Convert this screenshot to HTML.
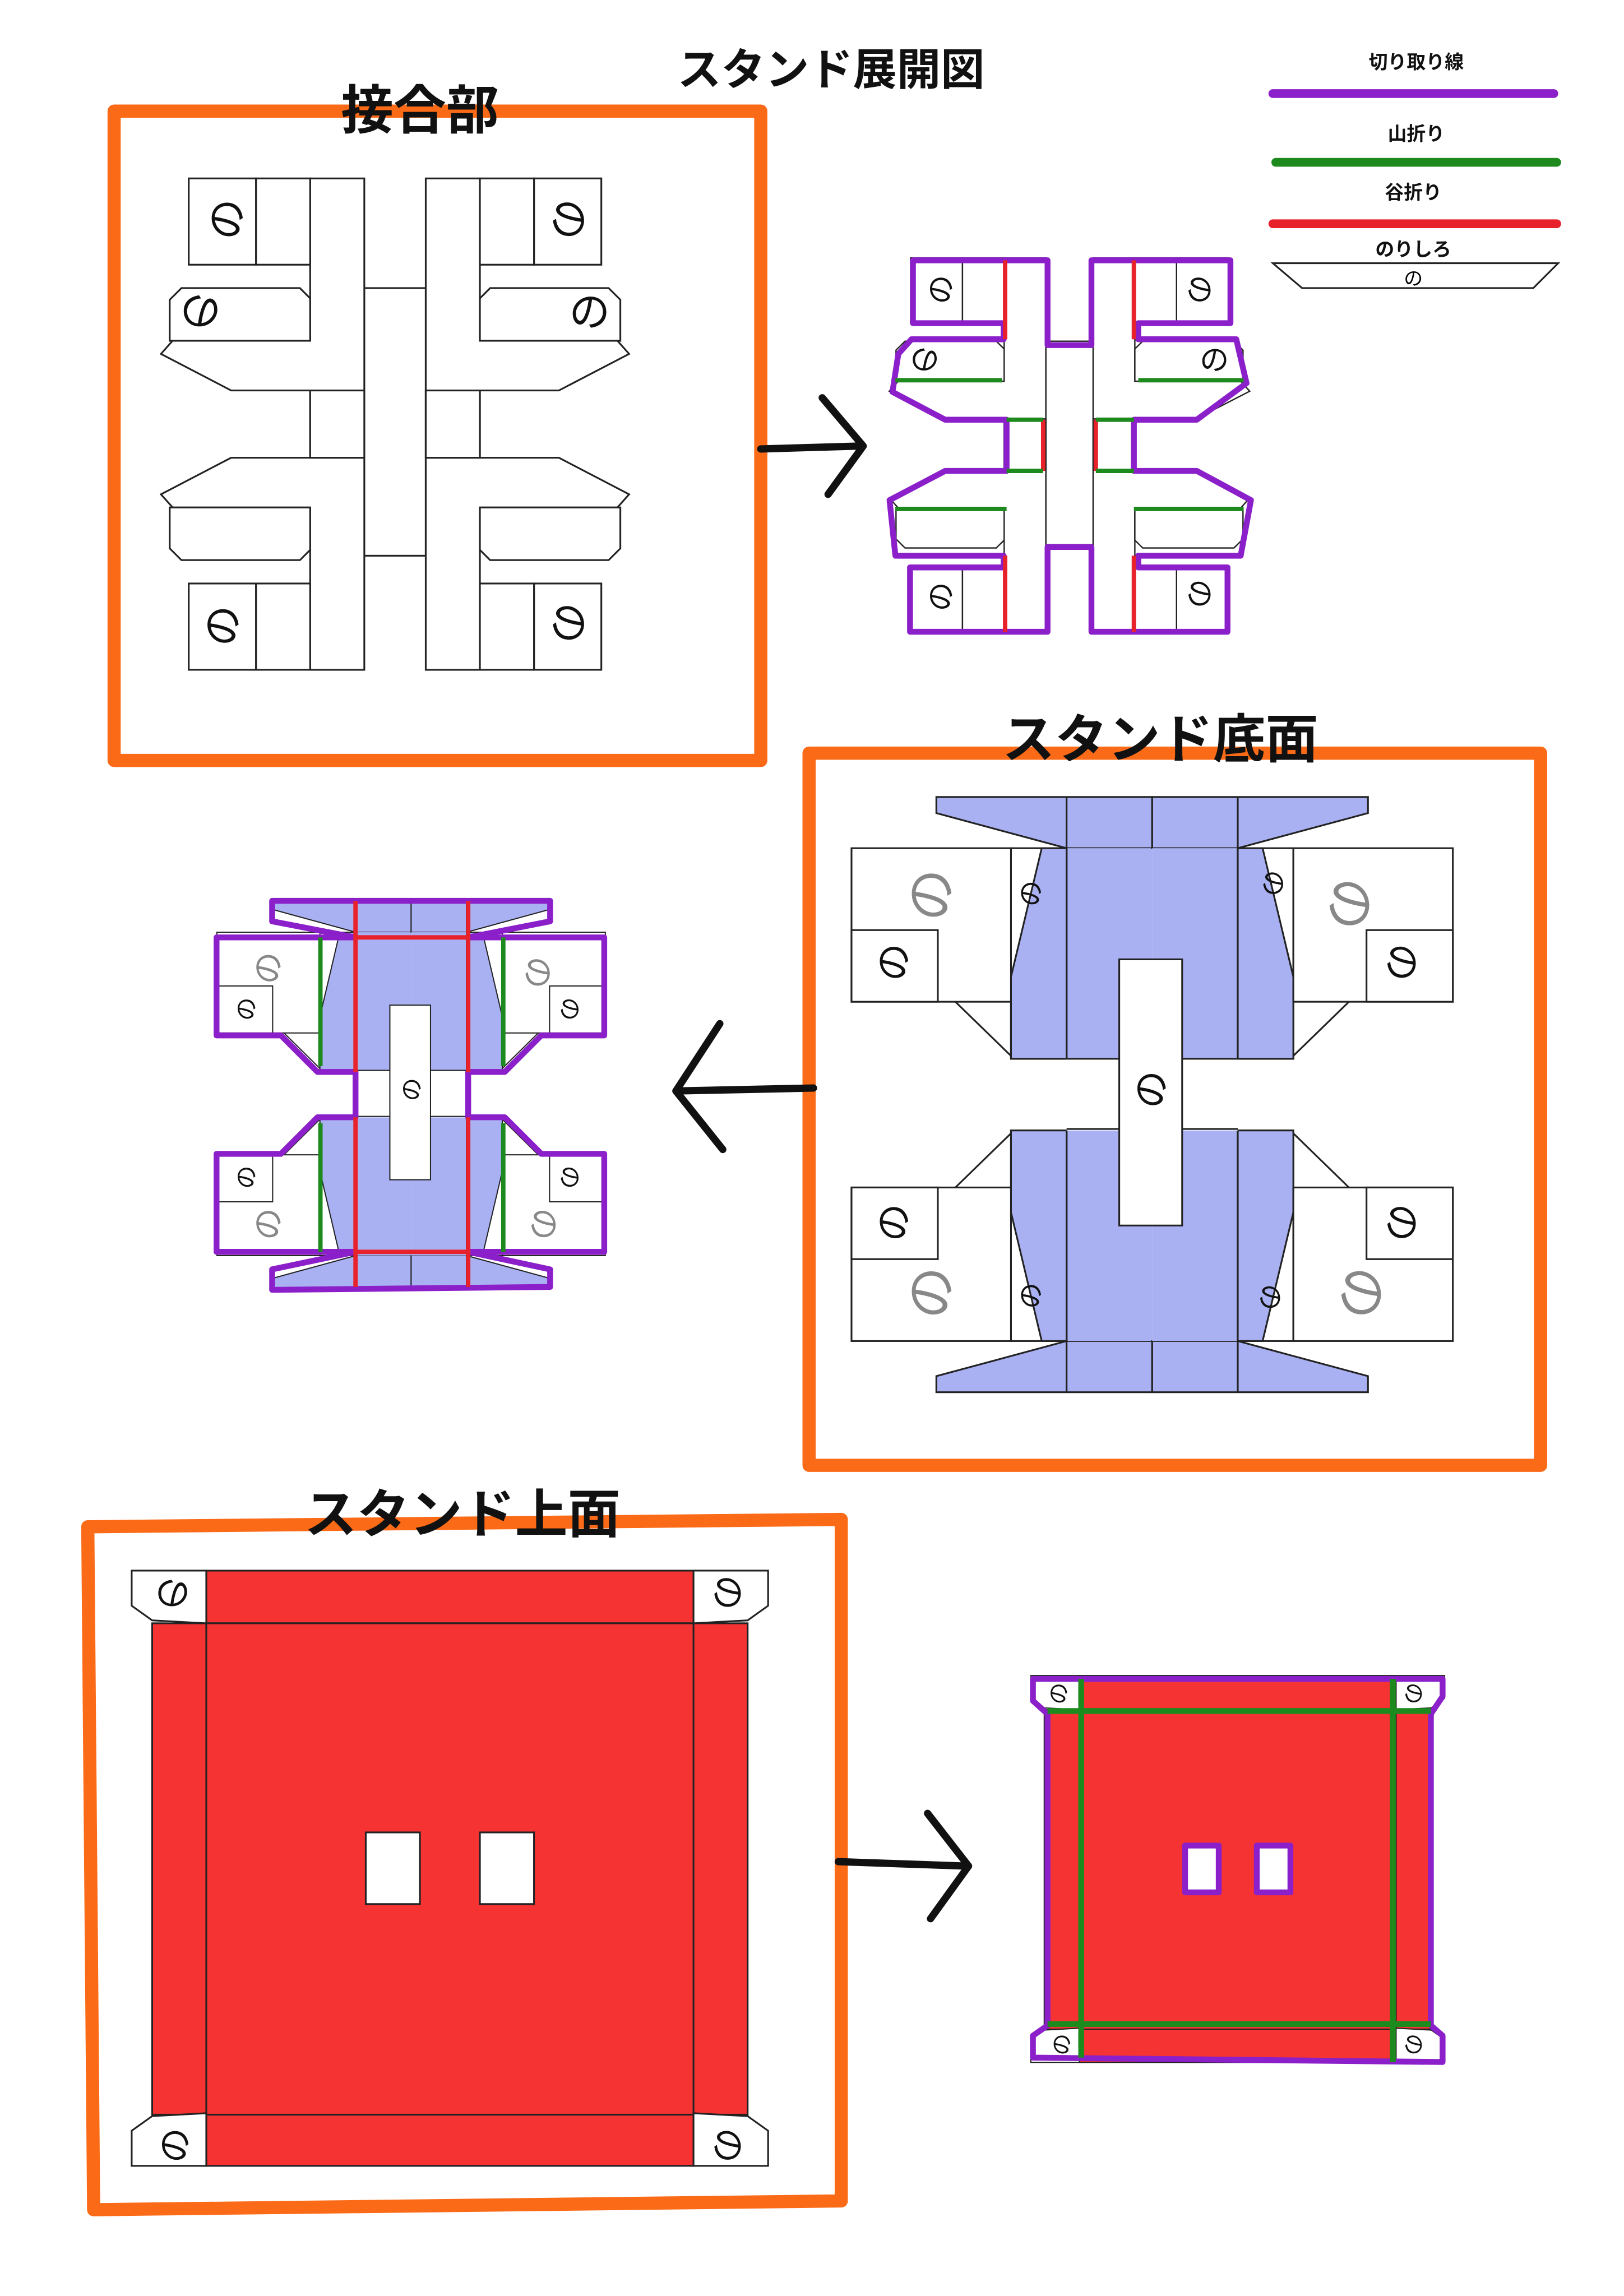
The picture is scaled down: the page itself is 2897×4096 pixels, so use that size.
<!DOCTYPE html>
<html><head><meta charset="utf-8"><style>
html,body{margin:0;padding:0;background:#fff}
svg{display:block}
text{font-family:"Liberation Sans","Noto Sans CJK JP",sans-serif}
</style></head><body>
<svg width="2897" height="4096" viewBox="0 0 1110 1570" preserveAspectRatio="none" xmlns="http://www.w3.org/2000/svg">
<defs>
<g id="q1" fill="#fff" stroke="#222" stroke-width="1.2" vector-effect="non-scaling-stroke">
  <polygon points="212,122 249,122 249,267 158,267 110,242 118,233 212,233"/>
  <polygon points="124,197 205,197 212,204 212,233 116,233 116,205"/>
  <rect x="129" y="122" width="46" height="59"/>
  <rect x="175" y="122" width="37" height="59"/>
  <rect x="212" y="267" width="37" height="46"/>
</g>
<g id="s1">
  <rect x="249" y="197" width="42" height="183" fill="#fff" stroke="#222" stroke-width="1.2"/>
  <use href="#q1"/>
  <use href="#q1" transform="matrix(-1 0 0 1 540 0)"/>
  <use href="#q1" transform="matrix(1 0 0 -1 0 580)"/>
  <use href="#q1" transform="matrix(-1 0 0 -1 540 580)"/>
</g>
<g id="bq" stroke="#222" stroke-width="1.2">
  <polygon points="640,545 787.5,545 787.5,580 729,580 640,556" fill="#a9b1f2"/>
  <line x1="729" y1="545" x2="729" y2="580"/>
  <rect x="729" y="580" width="58.5" height="144" fill="#a9b1f2" stroke="none"/>
  <line x1="729" y1="580" x2="729" y2="724"/>
  <rect x="691" y="580" width="38" height="144" fill="#fff"/>
  <polygon points="691,668 712,580 729,580 729,724 691,724" fill="#a9b1f2"/>
  <rect x="582" y="580" width="109" height="105" fill="#fff"/>
  <rect x="582" y="636" width="59" height="49" fill="#fff"/>
  <line x1="653" y1="685" x2="691" y2="722"/>
  <rect x="729" y="724" width="58.5" height="25" fill="#fff" stroke="none"/>
</g>
<g id="s2">
  <use href="#bq"/>
  <use href="#bq" transform="matrix(-1 0 0 1 1575 0)"/>
  <use href="#bq" transform="matrix(1 0 0 -1 0 1497)"/>
  <use href="#bq" transform="matrix(-1 0 0 -1 1575 1497)"/>
  <line x1="729" y1="724" x2="846" y2="724" stroke="#222" stroke-width="1.2"/>
  <line x1="729" y1="772" x2="846" y2="772" stroke="#222" stroke-width="1.2"/>
  <rect x="765" y="656" width="43" height="182" fill="#fff" stroke="#222" stroke-width="1.2"/>
</g>
<g id="tabA" fill="#fff" stroke="#222" stroke-width="1.2">
  <polygon points="90,1074 141,1074 141,1110 104,1108 90,1098"/>
</g>
<g id="s3" stroke="#222" stroke-width="1.2">
  <rect x="141" y="1074" width="333" height="407" fill="#f53333"/>
  <rect x="104" y="1110" width="407" height="336" fill="#f53333"/>
  <rect x="141" y="1110" width="333" height="336" fill="#f53333"/>
  <use href="#tabA"/>
  <use href="#tabA" transform="matrix(-1 0 0 1 615 0)"/>
  <use href="#tabA" transform="matrix(1 0 0 -1 0 2555)"/>
  <use href="#tabA" transform="matrix(-1 0 0 -1 615 2555)"/>
  <rect x="250" y="1253" width="37" height="49" fill="#fff"/>
  <rect x="328" y="1253" width="37" height="49" fill="#fff"/>
</g>
</defs>

<rect width="1110" height="1570" fill="#fff"/>

<text x="568" y="58" font-size="30" font-weight="bold" text-anchor="middle" fill="#111">スタンド展開図</text>

<g font-size="13" font-weight="bold" text-anchor="middle" fill="#111">
<text x="968" y="47">切り取り線</text>
<text x="968" y="96">山折り</text>
<text x="966" y="136">谷折り</text>
<text x="966" y="175">のりしろ</text>
</g>
<line x1="870" y1="64" x2="1062" y2="64" stroke="#8b1fc9" stroke-width="6" stroke-linecap="round"/>
<line x1="872" y1="111" x2="1064" y2="111" stroke="#1d8a1d" stroke-width="6" stroke-linecap="round"/>
<line x1="870" y1="153" x2="1064" y2="153" stroke="#e8222a" stroke-width="6" stroke-linecap="round"/>
<polygon points="870,180 1065,180 1048,197 890,197" fill="#fff" stroke="#222" stroke-width="1.2"/>
<text x="966" y="195" font-size="13" text-anchor="middle">の</text>

<rect x="78" y="76" width="442" height="444" fill="none" stroke="#fa6a17" stroke-width="9" stroke-linejoin="round"/>
<text x="287" y="88" font-size="36" font-weight="bold" text-anchor="middle" fill="#111">接合部</text>
<use href="#s1"/>
<g font-size="28" fill="#111" text-anchor="middle">
<text x="155" y="160" transform="rotate(-90 155 150)">の</text>
<text x="137" y="223" transform="rotate(180 137 213)">の</text>
<text x="389" y="160" transform="rotate(90 389 150)">の</text>
<text x="403" y="223">の</text>
<text x="152" y="438" transform="rotate(-90 152 428)">の</text>
<text x="389" y="436" transform="rotate(90 389 426)">の</text>
</g>

<g stroke="#111" stroke-width="5" fill="none" stroke-linecap="round" stroke-linejoin="round">
<line x1="520" y1="307" x2="588" y2="305"/>
<polyline points="562,272 590,305 566,338"/>
</g>

<g transform="translate(731,304) scale(0.77,0.76) translate(-270,-290)">
  <use href="#s1"/>
</g>
<g fill="none" stroke="#8b1fc9" stroke-width="4" stroke-linejoin="round">
  <polygon points="624,178 716,178 716,236 746,236 746,178 841,178 841,221 778,221 778,232 845,232 852,262 818,287 775,287 775,322 818,322 855,342 848,380 778,380 778,388 839,388 839,432 746,432 746,374 716,374 716,432 622,432 622,388 686,388 686,380 612,380 608,342 646,322 688,322 688,287 646,287 610,268 614,242 623,232 686,232 686,221 624,221"/>
</g>
<g stroke="#e8222a" stroke-width="3">
  <line x1="687" y1="178" x2="687" y2="232"/><line x1="775" y1="178" x2="775" y2="232"/>
  <line x1="687" y1="380" x2="687" y2="432"/><line x1="775" y1="380" x2="775" y2="432"/>
  <line x1="713" y1="287" x2="713" y2="322"/><line x1="749" y1="287" x2="749" y2="322"/>
</g>
<g stroke="#1d8a1d" stroke-width="3">
  <line x1="612" y1="260" x2="685" y2="260"/><line x1="778" y1="260" x2="850" y2="260"/>
  <line x1="612" y1="348" x2="688" y2="348"/><line x1="775" y1="348" x2="850" y2="348"/>
  <line x1="688" y1="287" x2="713" y2="287"/><line x1="749" y1="287" x2="775" y2="287"/>
  <line x1="688" y1="322" x2="713" y2="322"/><line x1="749" y1="322" x2="775" y2="322"/>
</g>
<g font-size="20" fill="#111" text-anchor="middle">
<text x="643" y="205" transform="rotate(-90 643 198)">の</text>
<text x="820" y="205" transform="rotate(90 820 198)">の</text>
<text x="632" y="253" transform="rotate(180 632 246)">の</text>
<text x="830" y="253">の</text>
<text x="643" y="415" transform="rotate(-90 643 408)">の</text>
<text x="820" y="413" transform="rotate(90 820 406)">の</text>
</g>

<rect x="553" y="515" width="500" height="487" fill="none" stroke="#fa6a17" stroke-width="9" stroke-linejoin="round"/>
<text x="793" y="518" font-size="36" font-weight="bold" text-anchor="middle" fill="#111">スタンド底面</text>
<use href="#s2"/>
<g font-size="36" fill="#888" text-anchor="middle">
<text x="637" y="624" transform="rotate(-90 637 612)">の</text>
<text x="922" y="630" transform="rotate(90 922 618)">の</text>
<text x="637" y="896" transform="rotate(-90 637 884)">の</text>
<text x="930" y="896" transform="rotate(90 930 884)">の</text>
</g>
<g font-size="26" fill="#111" text-anchor="middle">
<text x="611" y="667" transform="rotate(-90 611 658)">の</text>
<text x="958" y="667" transform="rotate(90 958 658)">の</text>
<text x="611" y="845" transform="rotate(-90 611 836)">の</text>
<text x="958" y="845" transform="rotate(90 958 836)">の</text>
<text x="787" y="754" transform="rotate(-90 787 745)">の</text>
</g>
<g font-size="18" fill="#111" text-anchor="middle">
<text x="705" y="617" transform="rotate(-90 705 611)">の</text>
<text x="870" y="610" transform="rotate(90 870 604)">の</text>
<text x="705" y="892" transform="rotate(-90 705 886)">の</text>
<text x="868" y="893" transform="rotate(90 868 887)">の</text>
</g>

<g stroke="#111" stroke-width="5" fill="none" stroke-linecap="round" stroke-linejoin="round">
<line x1="556" y1="744" x2="462" y2="746"/>
<polyline points="492,700 462,746 494,786"/>
</g>

<g transform="translate(281,748) scale(0.646,0.656) translate(-787.5,-748.5)">
  <use href="#s2"/>
</g>
<g fill="none" stroke="#8b1fc9" stroke-width="4" stroke-linejoin="round">
  <polygon points="186,616 376,616 376,630 320,641 340,641 413,641 413,708 370,708 345,733 320,733 320,764 345,764 370,789 413,789 413,856 340,856 320,856 376,868 376,880 186,882 186,868 243,856 220,856 148,856 148,789 192,789 217,764 243,764 243,733 217,733 192,708 148,708 148,641 220,641 243,641 186,630"/>
</g>
<g stroke="#e8222a" stroke-width="3">
  <line x1="243" y1="616" x2="243" y2="733"/><line x1="320" y1="616" x2="320" y2="733"/>
  <line x1="243" y1="764" x2="243" y2="880"/><line x1="320" y1="764" x2="320" y2="880"/>
  <line x1="243" y1="641" x2="320" y2="641"/><line x1="243" y1="856" x2="320" y2="856"/>
</g>
<g stroke="#1d8a1d" stroke-width="3">
  <line x1="219" y1="641" x2="219" y2="729"/><line x1="344" y1="641" x2="344" y2="729"/>
  <line x1="219" y1="768" x2="219" y2="856"/><line x1="344" y1="768" x2="344" y2="856"/>
</g>
<g font-size="22" fill="#888" text-anchor="middle">
<text x="183" y="670" transform="rotate(-90 183 662)">の</text>
<text x="368" y="673" transform="rotate(90 368 665)">の</text>
<text x="183" y="845" transform="rotate(-90 183 837)">の</text>
<text x="372" y="845" transform="rotate(90 372 837)">の</text>
</g>
<g font-size="16" fill="#111" text-anchor="middle">
<text x="168" y="696" transform="rotate(-90 168 690)">の</text>
<text x="390" y="696" transform="rotate(90 390 690)">の</text>
<text x="168" y="811" transform="rotate(-90 168 805)">の</text>
<text x="390" y="811" transform="rotate(90 390 805)">の</text>
<text x="281" y="751" transform="rotate(-90 281 745)">の</text>
</g>

<polygon points="60,1044 575,1039 575,1505 64,1511" fill="none" stroke="#fa6a17" stroke-width="9" stroke-linejoin="round"/>
<text x="316" y="1048" font-size="36" font-weight="bold" text-anchor="middle" fill="#111">スタンド上面</text>
<use href="#s3"/>
<g font-size="24" fill="#111" text-anchor="middle">
<text x="118" y="1097" transform="rotate(180 118 1089)">の</text>
<text x="497" y="1097" transform="rotate(90 497 1089)">の</text>
<text x="120" y="1475" transform="rotate(-90 120 1467)">の</text>
<text x="497" y="1475" transform="rotate(90 497 1467)">の</text>
</g>

<g stroke="#111" stroke-width="5" fill="none" stroke-linecap="round" stroke-linejoin="round">
<line x1="573" y1="1273" x2="660" y2="1276"/>
<polyline points="634,1240 662,1276 636,1312"/>
</g>

<g transform="translate(846,1278) scale(0.65,0.65) translate(-307.5,-1277.5)">
  <use href="#s3"/>
</g>
<g fill="none" stroke="#8b1fc9" stroke-width="4" stroke-linejoin="round">
  <polygon points="706,1148 986,1148 986,1160 978,1172 978,1385 986,1392 986,1410 706,1407 706,1392 716,1385 716,1172 706,1163"/>
  <rect x="810" y="1262" width="23" height="32"/>
  <rect x="859" y="1262" width="23" height="32"/>
</g>
<g stroke="#1d8a1d" stroke-width="4">
  <line x1="739" y1="1148" x2="739" y2="1407"/><line x1="952" y1="1148" x2="952" y2="1410"/>
  <line x1="716" y1="1170" x2="978" y2="1170"/><line x1="716" y1="1384" x2="978" y2="1384"/>
</g>
<g font-size="15" fill="#111" text-anchor="middle">
<text x="724" y="1163" transform="rotate(-90 724 1158)">の</text>
<text x="966" y="1163" transform="rotate(90 966 1158)">の</text>
<text x="726" y="1403" transform="rotate(-90 726 1398)">の</text>
<text x="966" y="1403" transform="rotate(90 966 1398)">の</text>
</g>
</svg>
</body></html>
